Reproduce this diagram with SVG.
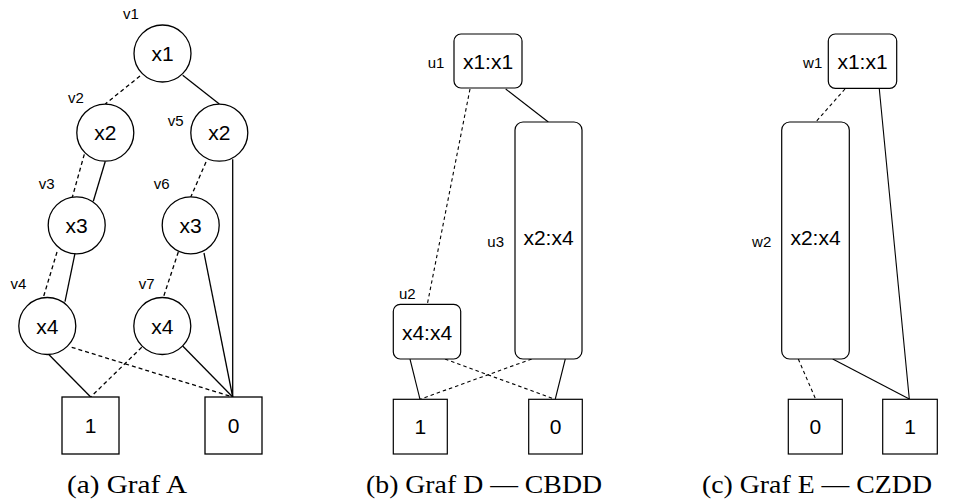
<svg xmlns="http://www.w3.org/2000/svg" width="958" height="504" viewBox="0 0 958 504">
<style>
.n{fill:#fff;stroke:#000;stroke-width:1.3}
.m{fill:#fff;stroke:#000;stroke-width:1.2}
.t{font-family:"Liberation Sans",Arial,sans-serif;font-size:21px;text-anchor:middle;fill:#000}
.l{font-family:"Liberation Sans",Arial,sans-serif;font-size:15px;text-anchor:middle;fill:#000}
.c{font-family:"Liberation Serif","Times New Roman",serif;font-size:25.5px;text-anchor:middle;fill:#000}
.s{stroke:#000;stroke-width:1.3;fill:none}
.d{stroke:#000;stroke-width:1.3;fill:none;stroke-dasharray:4 3}
.s2{stroke:#000;stroke-width:1.1;fill:none}
.d2{stroke:#000;stroke-width:1.1;fill:none;stroke-dasharray:3.5 3}
</style>
<rect width="958" height="504" fill="#fff"/>
<g id="connectors">
  <line class="d" x1="140" y1="76" x2="105.3" y2="104"/>
  <line class="s" x1="182.7" y1="75.3" x2="219.3" y2="104"/>
  <line class="d" x1="84.3" y1="154.3" x2="72.3" y2="197.3"/>
  <line class="s" x1="105.3" y1="161.3" x2="93.3" y2="201.3"/>
  <line class="d" x1="206" y1="162" x2="190.7" y2="197.3"/>
  <line class="s" x1="232.7" y1="159.3" x2="232.7" y2="397"/>
  <line class="d" x1="57" y1="252" x2="43.3" y2="297.5"/>
  <line class="s" x1="75" y1="253.3" x2="65" y2="301.7"/>
  <line class="d" x1="178.3" y1="252" x2="163.3" y2="297.5"/>
  <line class="s" x1="204" y1="253" x2="232.7" y2="397"/>
  <line class="s" x1="48.3" y1="354" x2="90.7" y2="397"/>
  <line class="d" x1="141.7" y1="347.3" x2="90.7" y2="397"/>
  <line class="d" x1="71.7" y1="347.3" x2="232.7" y2="397"/>
  <line class="s" x1="182.7" y1="346" x2="232.7" y2="397"/>
  <line class="d2" x1="470" y1="89" x2="427.3" y2="304.3"/>
  <line class="s2" x1="505.7" y1="89" x2="548.3" y2="122"/>
  <line class="s2" x1="410" y1="359" x2="420" y2="399.3"/>
  <line class="d2" x1="445" y1="359" x2="554" y2="399"/>
  <line class="d2" x1="531.7" y1="359" x2="420" y2="399.3"/>
  <line class="s2" x1="565.3" y1="359" x2="555.3" y2="399"/>
  <line class="d2" x1="845" y1="89" x2="815.7" y2="122"/>
  <line class="s2" x1="879.3" y1="89" x2="909.3" y2="399"/>
  <line class="d2" x1="798.3" y1="359" x2="815.7" y2="399.3"/>
  <line class="s2" x1="832.7" y1="359" x2="909.3" y2="399"/>
</g>
<g id="v1"><circle class="n" cx="162.5" cy="53.5" r="28.5"/><text class="t" x="162.5" y="61">x1</text><text class="l" x="131" y="18.5">v1</text></g>
<g id="v2"><circle class="n" cx="105.3" cy="132.7" r="28.5"/><text class="t" x="105.3" y="140">x2</text><text class="l" x="76" y="102.5">v2</text></g>
<g id="v5"><circle class="n" cx="219.3" cy="132.7" r="28.5"/><text class="t" x="219.3" y="140">x2</text><text class="l" x="175.7" y="125.5">v5</text></g>
<g id="v3"><circle class="n" cx="76.7" cy="225.3" r="28.5"/><text class="t" x="76.7" y="232.8">x3</text><text class="l" x="46.7" y="188.5">v3</text></g>
<g id="v6"><circle class="n" cx="190.7" cy="225.3" r="28.5"/><text class="t" x="190.7" y="232.8">x3</text><text class="l" x="161.7" y="188.5">v6</text></g>
<g id="v4"><circle class="n" cx="47.3" cy="326" r="28.5"/><text class="t" x="47.3" y="333.5">x4</text><text class="l" x="18.3" y="288.5">v4</text></g>
<g id="v7"><circle class="n" cx="162.3" cy="326" r="28.5"/><text class="t" x="162.3" y="333.5">x4</text><text class="l" x="146.7" y="288.5">v7</text></g>
<g id="a1"><rect class="n" x="62" y="397" width="57" height="57"/><text class="t" x="90.5" y="433">1</text></g>
<g id="a0"><rect class="n" x="205" y="397" width="57" height="57"/><text class="t" x="233.5" y="433">0</text></g>
<g id="u1"><rect class="m" x="454" y="34" width="68" height="54" rx="7"/><text class="t" x="488" y="68.5">x1:x1</text><text class="l" x="436" y="67.5">u1</text></g>
<g id="u3"><rect class="m" x="515" y="122" width="67" height="237" rx="8"/><text class="t" x="548.5" y="245">x2:x4</text><text class="l" x="495.7" y="247">u3</text></g>
<g id="u2"><rect class="m" x="393.3" y="304.3" width="67.4" height="54.7" rx="7"/><text class="t" x="427" y="339.5">x4:x4</text><text class="l" x="407.3" y="298.5">u2</text></g>
<g id="d1"><rect class="m" x="393.3" y="399.3" width="54" height="54.7"/><text class="t" x="420.3" y="434">1</text></g>
<g id="d0"><rect class="m" x="528.7" y="399.3" width="53.6" height="54.7"/><text class="t" x="555.5" y="434">0</text></g>
<g id="w1"><rect class="m" x="828.3" y="34" width="68.4" height="54.3" rx="7"/><text class="t" x="862.5" y="68.5">x1:x1</text><text class="l" x="812.7" y="67.5">w1</text></g>
<g id="w2"><rect class="m" x="781.7" y="122" width="67.6" height="237" rx="8"/><text class="t" x="815.5" y="245">x2:x4</text><text class="l" x="761.7" y="247">w2</text></g>
<g id="e0"><rect class="m" x="788.3" y="399.3" width="54" height="54.7"/><text class="t" x="815.3" y="434">0</text></g>
<g id="e1"><rect class="m" x="882.7" y="399.3" width="54.6" height="54.7"/><text class="t" x="910" y="434">1</text></g>
<text class="c" x="127" y="493" textLength="120" lengthAdjust="spacingAndGlyphs">(a) Graf A</text>
<text class="c" x="484" y="493" textLength="236" lengthAdjust="spacingAndGlyphs">(b) Graf D — CBDD</text>
<text class="c" x="817" y="493" textLength="230" lengthAdjust="spacingAndGlyphs">(c) Graf E — CZDD</text>
</svg>
